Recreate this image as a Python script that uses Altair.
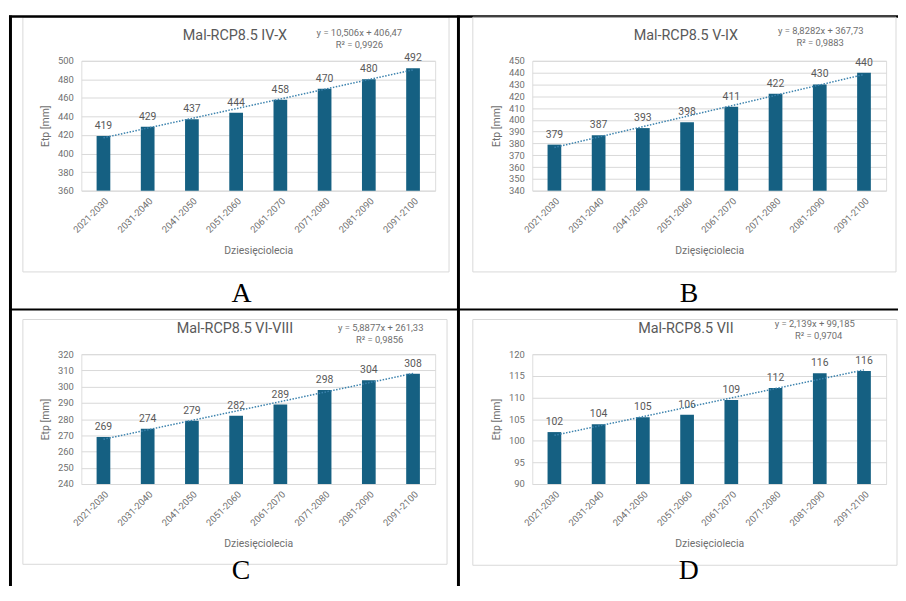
import altair as alt
import pandas as pd

# ---------------- data ----------------
decades = ["2021-2030", "2031-2040", "2041-2050", "2051-2060",
           "2061-2070", "2071-2080", "2081-2090", "2091-2100"]
decade_idx = [1, 2, 3, 4, 5, 6, 7, 8]

etp_a = [419, 429, 437, 444, 458, 470, 480, 492]
etp_b = [379, 387, 393, 398, 411, 422, 430, 440]
etp_c = [269, 274, 279, 282, 289, 298, 304, 308]
etp_d = [102.0, 103.8, 105.4, 106.0, 109.4, 112.2, 115.6, 116.1]

titles = ["Mal-RCP8.5 IV-X", "Mal-RCP8.5 V-IX", "Mal-RCP8.5 VI-VIII", "Mal-RCP8.5 VII"]
equations = ["y = 10,506x + 406,47", "y = 8,8282x + 367,73",
             "y = 5,8877x + 261,33", "y = 2,139x + 99,185"]
r2_texts = ["R² = 0,9926", "R² = 0,9883", "R² = 0,9856", "R² = 0,9704"]
x_titles = ["Dziesięciolecia", "Dzięsięciolecia", "Dziesięciolecia", "Dziesięciolecia"]
y_title = "Etp [mm]"
panel_letters = ["A", "B", "C", "D"]
y_min = [360, 340, 240, 90]
y_max = [500, 450, 320, 120]
y_step = [20, 10, 10, 5]

# ---------------- styling / layout ----------------
W, H = 357, 131
BAR = "#156082"
TREND = "#3b82ad"
FONT = "Roboto"

# chart box (x, y, x2, y2) relative to plot area
boxes = [(-59, -44, 371, 213), (-60, -44, 367, 213),
         (-59, -35, 369, 212), (-60, -35, 368, 213)]
title_pos = [(155, -25), (155, -25), (155, -25), (155, -25)]
eq_pos = [(280.5, -28), (291, -30.4), (302, -26.4), (285, -30.7)]
r2_pos = [(280.5, -16), (290.5, -18), (301, -14), (289, -18)]
letter_pos = [(161.7, 243), (158, 243), (161, 227), (158, 227)]

one = pd.DataFrame({"k": [0]})


def deco_text(txt, x, y, size, color, font=FONT, baseline="middle"):
    return alt.Chart(one).mark_text(
        text=txt, fontSize=size, color=color, font=font,
        align="center", baseline=baseline
    ).encode(x=alt.value(x), y=alt.value(y))


def panel(i, vals):
    df = pd.DataFrame({"decade": decades, "idx": decade_idx, "etp": vals})
    base = alt.Chart(df)
    lo, hi, st = y_min[i], y_max[i], y_step[i]
    yscale = alt.Scale(domain=[lo, hi], zero=False, nice=False)
    xscale = alt.Scale(paddingInner=0.69, paddingOuter=0.345)
    xenc = alt.X(
        "decade:N", sort=decades, scale=xscale,
        axis=alt.Axis(
            title=x_titles[i], labelAngle=-45, labelFontSize=9.5,
            labelColor="#6f6f6f", ticks=False, domain=False, labelPadding=5,
            titleFontSize=10.5, titleColor="#6f6f6f", titleFontWeight="normal",
            titleY=60, titleBaseline="middle"
        ),
    )
    yenc = alt.Y(
        "etp:Q", scale=yscale,
        axis=alt.Axis(
            title=y_title, values=list(range(lo, hi + 1, st)), labelFontSize=9.5,
            labelColor="#6f6f6f", ticks=False, domain=False, labelPadding=8,
            labelOverlap=False, gridColor="#d9d9d9", gridWidth=1,
            titleFontSize=10.5, titleColor="#6f6f6f", titleFontWeight="normal",
            titleX=-36, titleY=H / 2, titleBaseline="middle", titleAlign="center",
            titleAngle=-90
        ),
    )
    bx = boxes[i]
    box = alt.Chart(one).mark_rect(fillOpacity=0, stroke="#d9d9d9", strokeWidth=1).encode(
        x=alt.value(bx[0]), x2=alt.value(bx[2]), y=alt.value(bx[1]), y2=alt.value(bx[3])
    )
    bars = base.mark_bar(color=BAR).encode(x=xenc, y=yenc, y2=alt.Y2Datum(datum=lo))
    labels = base.mark_text(dy=-7, baseline="alphabetic", fontSize=10.5,
                            color="#595959").encode(
        x=alt.X("decade:N", sort=decades, scale=xscale, axis=None), y=yenc,
        text=alt.Text("etp:Q", format=".0f"))
    trend = base.transform_regression("idx", "etp", method="linear").mark_line(
        color=TREND, strokeWidth=1.5, strokeDash=[1.5, 1.5]
    ).encode(
        x=alt.X("idx:Q", scale=alt.Scale(domain=[0.5, 8.5]), axis=None),
        y=yenc,
    )
    layers = [bars, box]
    layers += [
        deco_text(titles[i], title_pos[i][0], title_pos[i][1], 14.5, "#595959"),
        deco_text(equations[i], eq_pos[i][0], eq_pos[i][1], 9.5, "#6f6f6f"),
        deco_text(r2_texts[i], r2_pos[i][0], r2_pos[i][1], 9.5, "#6f6f6f"),
        deco_text(panel_letters[i], letter_pos[i][0], letter_pos[i][1], 28, "black",
                  font="Liberation Serif", baseline="alphabetic"),
    ]
    if i == 0:
        # table frame lines (page grid), drawn relative to panel A
        line = alt.Chart(one).mark_rule(color="black")
        layers += [
            line.encode(x=alt.value(-73), x2=alt.value(830), y=alt.value(-44.7),
                        strokeWidth=alt.value(2.5)),
            line.encode(x=alt.value(-73), x2=alt.value(830), y=alt.value(250.8),
                        strokeWidth=alt.value(2)),
            line.encode(x=alt.value(-71.5), y=alt.value(-45.7), y2=alt.value(545),
                        strokeWidth=alt.value(3)),
            line.encode(x=alt.value(380.5), y=alt.value(-45.7), y2=alt.value(545),
                        strokeWidth=alt.value(3)),
        ]
    layers += [labels, trend]
    return alt.layer(*layers).resolve_scale(x="independent").properties(width=W, height=H)


panels = [panel(0, etp_a), panel(1, etp_b), panel(2, etp_c), panel(3, etp_d)]

PAD_L, PAD_T = 74, 50.7
SVG_W, SVG_H = 898, 578

chart = alt.concat(
    *panels, columns=2,
    spacing=alt.RowColnumber(row=165, column=98),
    bounds="flush",
).properties(
    autosize=alt.AutoSizeParams(type="none"),
    padding={"left": PAD_L, "top": PAD_T,
             "right": SVG_W - PAD_L, "bottom": SVG_H - PAD_T},
    background="white",
).configure_view(stroke=None).configure(font=FONT)

chart.save("out.html", embed_options={"renderer": "svg", "actions": False})
